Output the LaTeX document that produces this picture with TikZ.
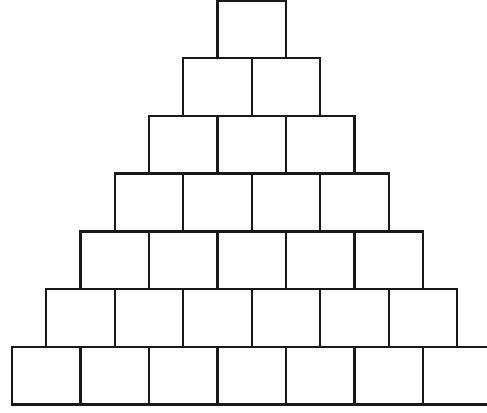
\documentclass[tikz,border=0pt]{standalone}
\usepackage{tikz}
\usetikzlibrary{positioning}
\tikzset{brick/.style={draw=black!90, line width=2.4bp, minimum width=68.5bp,
                       minimum height=57.7bp, inner sep=0pt, outer sep=0pt}}

\begin{document}
\begin{tikzpicture}[x=1bp, y=1bp]
\useasboundingbox (0, 0) rectangle (487, 412);
% seven rows of boxes, one more in each row
\foreach \r in {1,...,7} {
  \pgfmathtruncatemacro{\n}{\r-1}
  \foreach \k in {0,...,\n} {
    \node[brick] (box-\r-\k) at ({217.5-(\r-1)*34.25+(\k+0.5)*68.5},
                                 {411.5-(\r-1)*57.7-28.85}) {};
  }
}
\end{tikzpicture}
\end{document}
